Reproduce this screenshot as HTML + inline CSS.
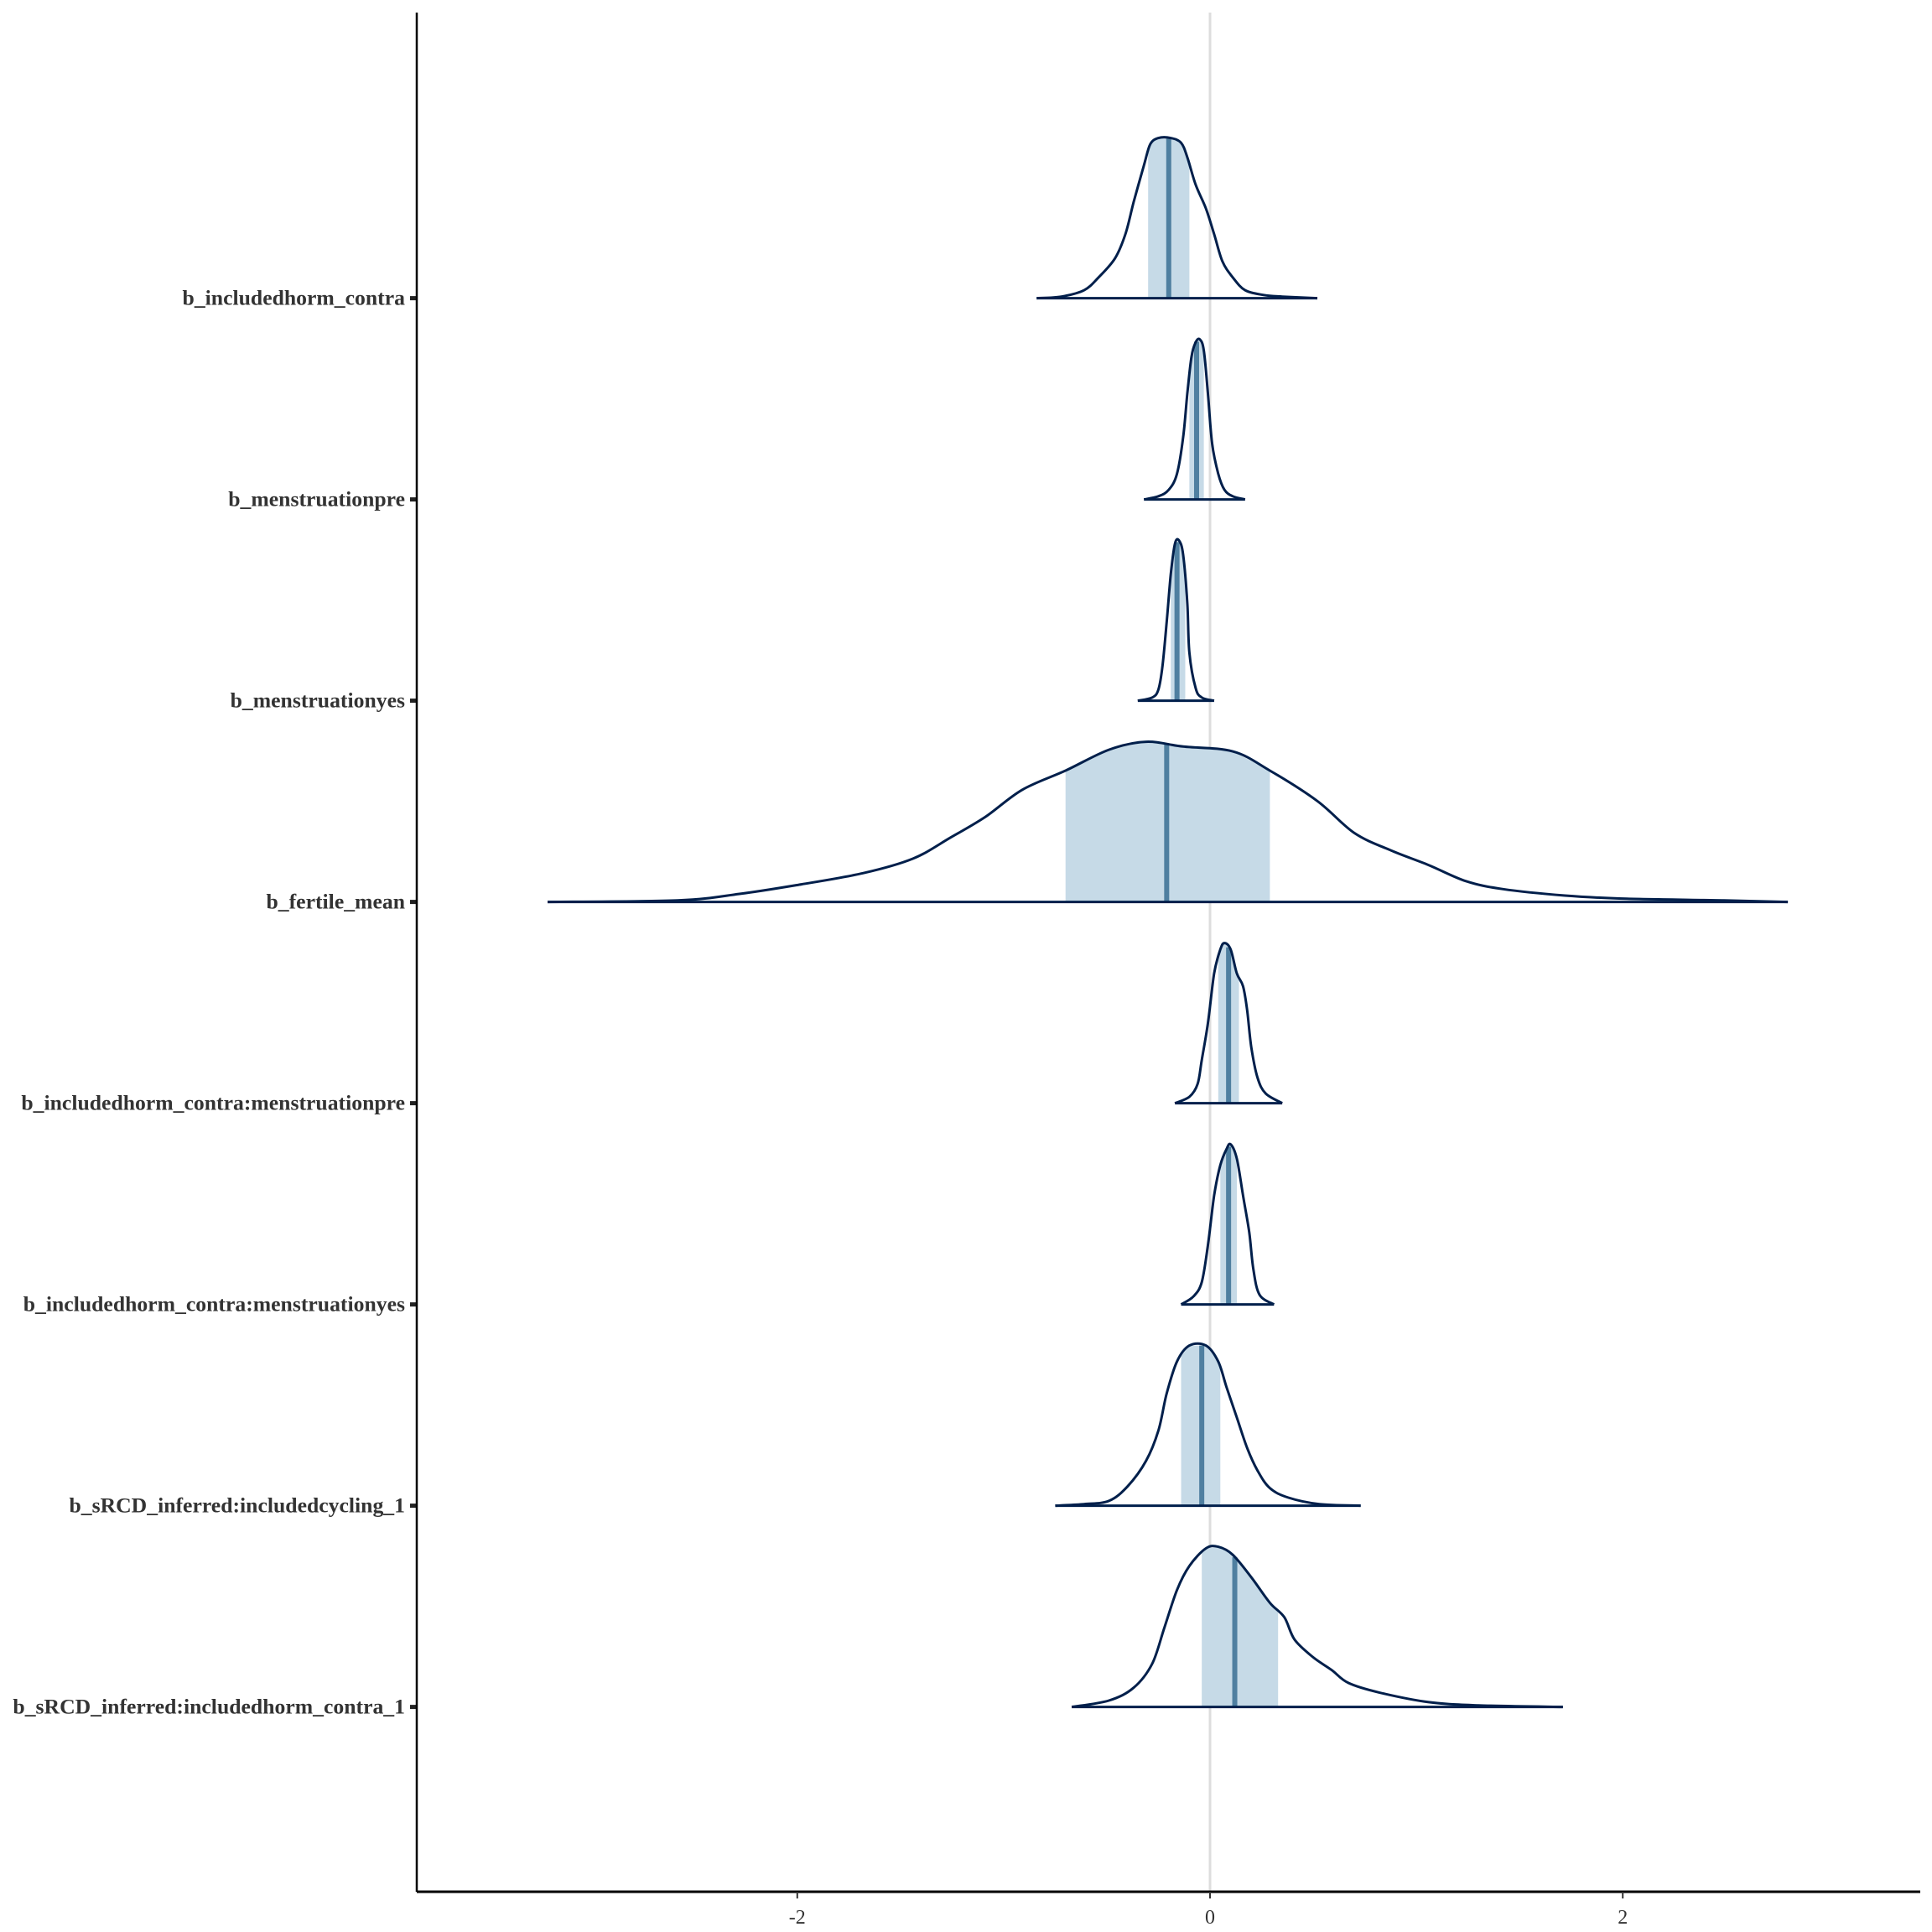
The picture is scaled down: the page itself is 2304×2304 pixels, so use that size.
<!DOCTYPE html>
<html><head><meta charset="utf-8"><style>html,body{margin:0;padding:0;background:#fff}svg{display:block}</style></head>
<body>
<svg id="chart" width="2304" height="2304" viewBox="0 0 2304 2304" xmlns="http://www.w3.org/2000/svg">
<g id="grid"></g><g id="marks"></g><g id="axes"></g>
</svg>
<script>
const params = ["b_includedhorm_contra","b_menstruationpre","b_menstruationyes","b_fertile_mean","b_includedhorm_contra:menstruationpre","b_includedhorm_contra:menstruationyes","b_sRCD_inferred:includedcycling_1","b_sRCD_inferred:includedhorm_contra_1"];
const densX = [
 [-0.84,-0.72,-0.61,-0.54,-0.46,-0.41,-0.37,-0.32,-0.29,-0.25,-0.19,-0.14,-0.11,-0.07,-0.02,0.02,0.06,0.11,0.17,0.26,0.35,0.52],
 [-0.32,-0.25,-0.20,-0.16,-0.13,-0.11,-0.09,-0.07,-0.05,-0.03,-0.01,0.01,0.04,0.07,0.11,0.17],
 [-0.35,-0.28,-0.25,-0.23,-0.21,-0.19,-0.17,-0.15,-0.13,-0.11,-0.10,-0.07,-0.04,0.02],
 [-3.21,-2.58,-2.28,-1.98,-1.68,-1.44,-1.26,-1.09,-0.91,-0.70,-0.49,-0.31,-0.13,0.11,0.29,0.52,0.70,0.88,1.06,1.24,1.42,1.72,2.02,2.49,2.80],
 [-0.17,-0.10,-0.06,-0.04,-0.01,0.02,0.05,0.07,0.10,0.13,0.16,0.18,0.20,0.23,0.27,0.35],
 [-0.14,-0.08,-0.04,-0.01,0.02,0.05,0.08,0.10,0.13,0.16,0.19,0.21,0.24,0.31],
 [-0.75,-0.61,-0.49,-0.40,-0.31,-0.25,-0.21,-0.16,-0.10,-0.02,0.04,0.08,0.13,0.18,0.23,0.29,0.38,0.53,0.73],
 [-0.67,-0.49,-0.37,-0.28,-0.22,-0.16,-0.10,-0.02,0.04,0.11,0.20,0.29,0.36,0.41,0.50,0.59,0.67,0.82,1.06,1.30,1.71]
];
const densH = [
 [0,0.01,0.05,0.13,0.25,0.40,0.60,0.83,0.96,1,1,0.97,0.88,0.71,0.56,0.40,0.23,0.13,0.05,0.02,0.01,0],
 [0,0.02,0.06,0.16,0.39,0.66,0.89,0.98,1,0.93,0.66,0.35,0.16,0.06,0.02,0],
 [0,0.02,0.07,0.22,0.49,0.79,0.98,1,0.91,0.61,0.30,0.08,0.02,0],
 [0,0.01,0.05,0.11,0.18,0.27,0.40,0.53,0.70,0.82,0.95,1,0.97,0.94,0.82,0.63,0.43,0.32,0.23,0.13,0.08,0.04,0.02,0.01,0],
 [0,0.04,0.12,0.27,0.50,0.81,0.96,1,0.96,0.81,0.73,0.58,0.35,0.16,0.06,0],
 [0,0.05,0.14,0.37,0.68,0.87,0.97,1,0.91,0.68,0.45,0.22,0.06,0],
 [0,0.01,0.03,0.12,0.28,0.47,0.70,0.90,1,1,0.90,0.74,0.55,0.36,0.22,0.11,0.05,0.01,0],
 [0,0.04,0.12,0.27,0.50,0.73,0.88,0.99,1,0.95,0.81,0.65,0.56,0.42,0.31,0.23,0.15,0.09,0.03,0.01,0]
];
const ciLow = [-0.30,-0.10,-0.19,-0.70,0.04,0.05,-0.14,-0.04];
const ciHigh = [-0.10,-0.03,-0.12,0.29,0.14,0.13,0.05,0.33];
const medians = [-0.20,-0.065,-0.16,-0.21,0.09,0.09,-0.04,0.12];
const xTicks = [-2,0,2];
const xTickLabels = ["-2","0","2"];

const NS="http://www.w3.org/2000/svg";
const X0=1443, XS=246.1, Y0=355.6, YS=240, PEAK=191;
const AX_L=497, AX_B=2256, AX_T=15, AX_R=2290;
const sx=v=>X0+v*XS;
const sy=i=>Y0+i*YS;
function mk(tag,attrs,parent){const e=document.createElementNS(NS,tag);for(const k in attrs)e.setAttribute(k,attrs[k]);parent.appendChild(e);return e;}
function interp(xs,hs,v){for(let k=0;k<xs.length-1;k++){if(v>=xs[k]&&v<=xs[k+1]){const t=(v-xs[k])/(xs[k+1]-xs[k]);return hs[k]+t*(hs[k+1]-hs[k]);}}return 0;}
function smoothPath(pts){let d="M"+pts[0][0]+","+pts[0][1];for(let i=0;i<pts.length-1;i++){const p0=pts[i-1]||pts[i],p1=pts[i],p2=pts[i+1],p3=pts[i+2]||p2;const c1=[p1[0]+(p2[0]-p0[0])/6,p1[1]+(p2[1]-p0[1])/6],c2=[p2[0]-(p3[0]-p1[0])/6,p2[1]-(p3[1]-p1[1])/6];d+=" C"+c1[0].toFixed(1)+","+c1[1].toFixed(1)+" "+c2[0].toFixed(1)+","+c2[1].toFixed(1)+" "+p2[0].toFixed(1)+","+p2[1].toFixed(1);}return d;}

const grid=document.getElementById('grid'), marks=document.getElementById('marks'), axes=document.getElementById('axes');
const zl=mk('line',{x1:sx(0),x2:sx(0),y1:AX_T,y2:AX_B,stroke:'#dddddd','stroke-width':3},grid);



params.forEach((p,i)=>{
  const base=sy(i), xs=densX[i], hs=densH[i];
  const g=mk('g',{},marks);
  
  
  const n=40, lo=ciLow[i], hi=ciHigh[i];
  const band=[];
  for(let k=0;k<=n;k++){const v=lo+(hi-lo)*k/n;band.push([sx(v),base-interp(xs,hs,v)*PEAK]);}
  let bd="M"+sx(lo)+","+base+" L"+band.map(q=>q[0].toFixed(1)+","+q[1].toFixed(1)).join(" L")+" L"+sx(hi)+","+base+" Z";
  const ci=mk('path',{d:bd,fill:'#c6dae7',stroke:'none'},g);
  
  
  const mh=interp(xs,hs,medians[i])*PEAK;
  const md=mk('line',{x1:sx(medians[i]),x2:sx(medians[i]),y1:base,y2:base-mh,stroke:'#4f7fa0','stroke-width':6},g);
  
  
  const pts=xs.map((v,k)=>[sx(v),base-hs[k]*PEAK]);
  const cv=mk('path',{d:smoothPath(pts),fill:'none',stroke:'#011f4b','stroke-width':3,'stroke-linejoin':'round'},g);
  
  
  const bl=mk('line',{x1:sx(xs[0]),x2:sx(xs[xs.length-1]),y1:base,y2:base,stroke:'#011f4b','stroke-width':3},g);
  
  
  const tk=mk('line',{x1:AX_L-8,x2:AX_L,y1:base,y2:base,stroke:'#222','stroke-width':5},axes);
  
  
  const lb=mk('text',{x:AX_L-14,y:base+8,'text-anchor':'end','font-family':'"Liberation Serif", serif','font-weight':'bold','font-size':25.7,fill:'#333'},axes);
  lb.textContent=p;
  
  
});

const ya=mk('line',{x1:AX_L,x2:AX_L,y1:AX_T,y2:AX_B,stroke:'#000','stroke-width':2.5},axes);


const xa=mk('line',{x1:AX_L,x2:AX_R,y1:AX_B,y2:AX_B,stroke:'#000','stroke-width':3},axes);


xTicks.forEach((t,k)=>{
  const tl=mk('line',{x1:sx(t),x2:sx(t),y1:AX_B,y2:AX_B+8,stroke:'#333','stroke-width':2},axes);
  
  
  const tx=mk('text',{x:sx(t),y:AX_B+38,'text-anchor':'middle','font-family':'"Liberation Serif", serif','font-size':24,fill:'#333'},axes);
  tx.textContent=xTickLabels[k];
  
  
});
</script>
</body></html>
